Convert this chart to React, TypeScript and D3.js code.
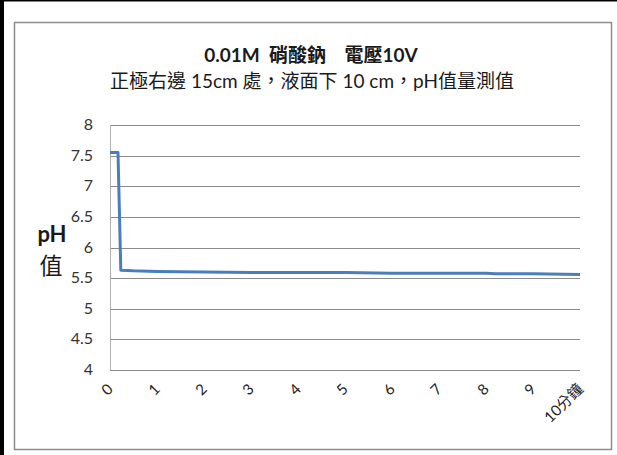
import React from "react";
import * as d3 from "d3";

// pH readings over time (minutes) at 15 cm right of the anode, 10 cm below the surface
const timeMin = [0, 0.17, 0.23, 0.5, 1, 2, 3, 4, 5, 6, 7, 8, 8.2, 9, 10];
const phValue = [7.55, 7.55, 5.63, 5.62, 5.61, 5.6, 5.59, 5.59, 5.59, 5.58, 5.58, 5.58, 5.57, 5.57, 5.56];

const yTicks = [4, 4.5, 5, 5.5, 6, 6.5, 7, 7.5, 8];
const xTicks = [0, 1, 2, 3, 4, 5, 6, 7, 8, 9, 10];
const xTickLabels = ["0", "1", "2", "3", "4", "5", "6", "7", "8", "9", "10分鐘"];

const titleLine1 = "0.01M  硝酸鈉    電壓10V";
const titleLine2 = "正極右邊 15cm 處，液面下 10 cm，pH值量測值";

const W = 617;
const H = 455;
const plot = { left: 110, right: 580, top: 125, bottom: 370 };
const FONT = "Lato, 'Noto Sans CJK TC', sans-serif";

export default function App() {
  const x = d3.scaleLinear().domain([0, 10]).range([plot.left, plot.right]);
  const y = d3.scaleLinear().domain([4, 8]).range([plot.bottom, plot.top]);
  const line = d3
    .line<number>()
    .x((_, i) => x(timeMin[i]))
    .y((d) => y(d));

  return (
    <svg
      width={W}
      height={H}
      style={{ position: "absolute", left: 0, top: 0, background: "#fff" }}
      fontFamily={FONT}
    >
      {/* outer page edges */}
      <rect x={0} y={0} width={W} height={1.5} fill="#000" />
      <rect x={0} y={0} width={4} height={H} fill="#000" />
      {/* chart frame */}
      <rect x={14.5} y={22.5} width={597} height={427} fill="#fff" stroke="#8c8c8c" strokeWidth={1.5} />

      {/* titles */}
      <text
        x={311}
        y={62}
        textAnchor="middle"
        fontSize={19}
        fontWeight="bold"
        fill="#1a1a1a"
        style={{ whiteSpace: "pre" }}
      >
        {titleLine1}
      </text>
      <text x={312} y={88} textAnchor="middle" fontSize={19} fill="#1a1a1a">
        {titleLine2}
      </text>

      {/* horizontal gridlines */}
      {yTicks.map((t) => (
        <line
          key={t}
          x1={plot.left}
          x2={plot.right}
          y1={Math.round(y(t)) + 0.5}
          y2={Math.round(y(t)) + 0.5}
          stroke="#8a8a8a"
          strokeWidth={1}
        />
      ))}
      {/* y axis line */}
      <line x1={plot.left + 0.5} x2={plot.left + 0.5} y1={plot.top} y2={plot.bottom} stroke="#b0b0b0" />

      {/* y tick labels */}
      {yTicks.map((t) => (
        <text key={t} x={93} y={y(t) + 5} textAnchor="end" fontSize={16} fill="#333">
          {t}
        </text>
      ))}

      {/* y axis title */}
      <text x={52} y={242} textAnchor="middle" fontSize={22} fontWeight="bold" fill="#1a1a1a">
        pH
      </text>
      <text x={51} y={274} textAnchor="middle" fontSize={23} fill="#1a1a1a">
        值
      </text>

      {/* x tick labels, rotated */}
      {xTicks.map((t, i) => (
        <text
          key={t}
          transform={`translate(${x(t) + 4},${390}) rotate(-45)`}
          textAnchor="end"
          fontSize={15}
          fill="#222"
        >
          {xTickLabels[i]}
        </text>
      ))}

      {/* pH series */}
      <path d={line(phValue) ?? ""} fill="none" stroke="#4a7ebb" strokeWidth={3} strokeLinejoin="round" />
    </svg>
  );
}
